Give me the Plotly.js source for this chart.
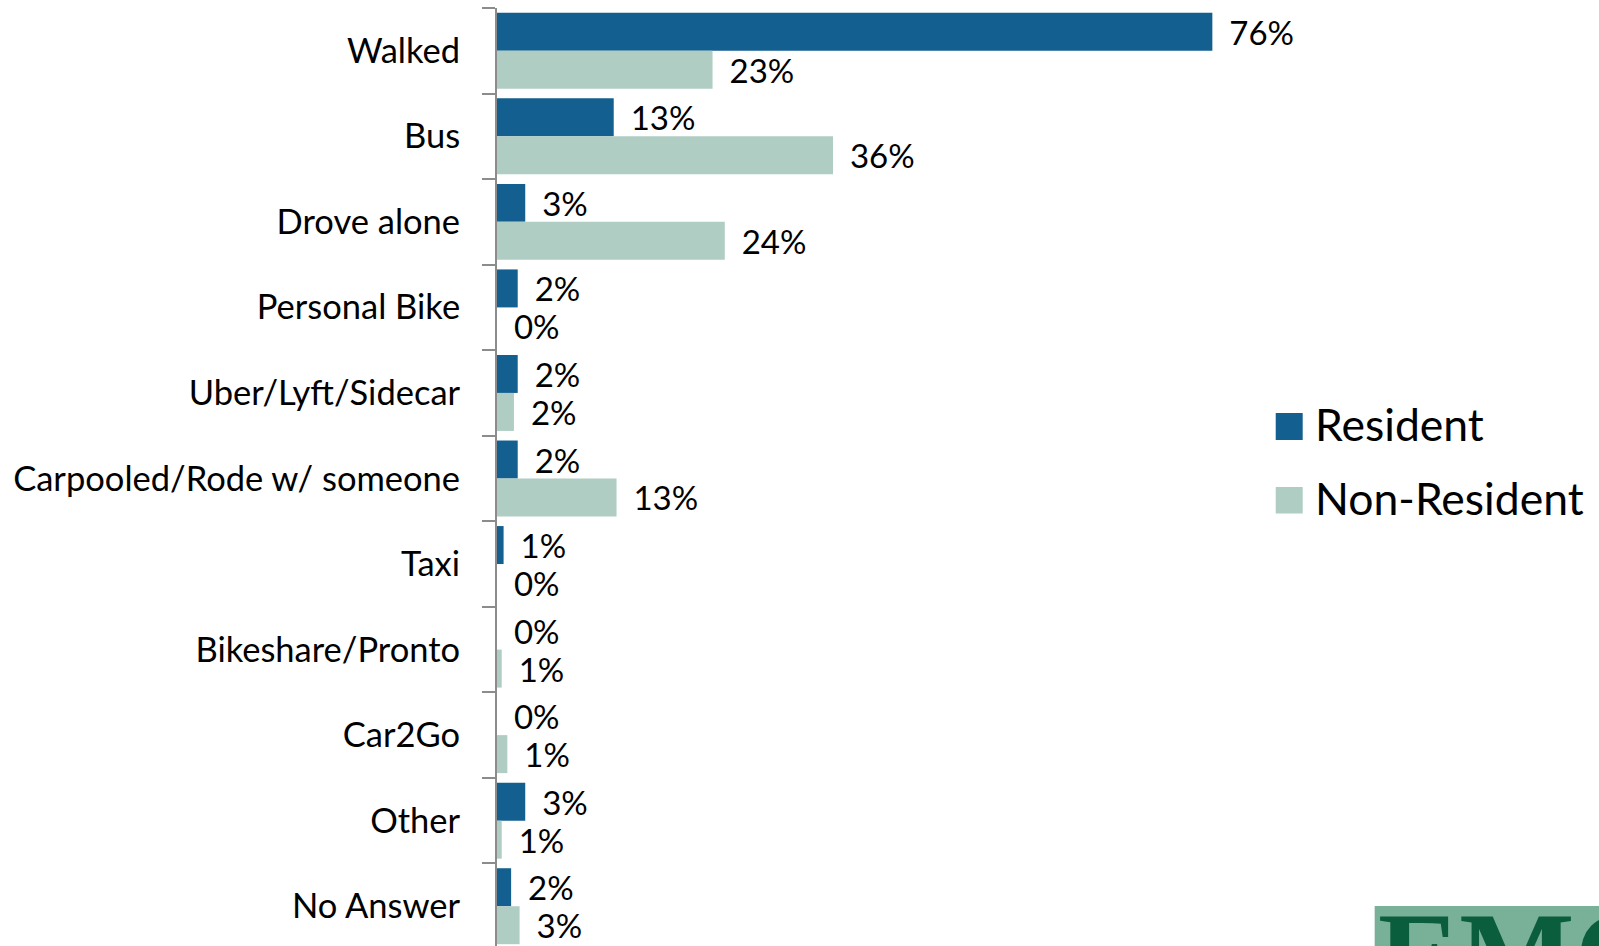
<!DOCTYPE html>
<html>
<head>
<meta charset="utf-8">
<script src="https://cdn.plot.ly/plotly-3.0.1.min.js"></script>
<style>
  html, body { margin: 0; padding: 0; background: #ffffff; }
  #chart { width: 1599px; height: 946px; }
</style>
</head>
<body>
<div id="chart"></div>
<script>
// ---- data ----
const categories = ["Walked", "Bus", "Drove alone", "Personal Bike", "Uber/Lyft/Sidecar",
  "Carpooled/Rode w/ someone", "Taxi", "Bikeshare/Pronto", "Car2Go", "Other", "No Answer"];
const seriesNames = ["Resident", "Non-Resident"];
const residentValues    = [76.0, 12.4, 3.0, 2.2, 2.2, 2.2, 0.7, 0.0, 0.0, 3.0, 1.5];
const nonResidentValues = [22.9, 35.7, 24.2, 0.0, 1.8, 12.7, 0.0, 0.5, 1.1, 0.5, 2.4];
const residentLabels    = ["76%", "13%", "3%", "2%", "2%", "2%", "1%", "0%", "0%", "3%", "2%"];
const nonResidentLabels = ["23%", "36%", "24%", "0%", "2%", "13%", "0%", "1%", "1%", "1%", "3%"];
const logoText = "EMC";

// ---- styling ----
const FONT = "Lato, 'Open Sans', sans-serif";
const colors = ["#135f8f", "#afcdc3"];
const W = 1599, H = 946;
const mL = 497, mT = 8, mB = 0;
const xMax = 80;
const pxPerUnit = 9.416;
const plotW = xMax * pxPerUnit;
const mR = W - mL - plotW;
const plotH = H - mT - mB;
const px = X => (X - mL) / plotW;
const py = Y => (H - mB - Y) / plotH;
const pad = s => "\u00A0\u2006" + s;

const commonBar = {
  type: "bar",
  orientation: "h",
  y: categories,
  textposition: "outside",
  cliponaxis: false,
  constraintext: "none",
  textfont: { family: FONT, size: 33, color: "#000000" },
  hoverinfo: "skip",
  showlegend: false
};

const traces = [
  Object.assign({}, commonBar, {
    name: seriesNames[0],
    x: residentValues,
    text: residentLabels.map(pad),
    marker: { color: colors[0] }
  }),
  Object.assign({}, commonBar, {
    name: seriesNames[1],
    x: nonResidentValues,
    text: nonResidentLabels.map(pad),
    marker: { color: colors[1] }
  })
];

const legendRows = [
  { top: 413, bottom: 440, mid: 423 },
  { top: 487, bottom: 513.5, mid: 498 }
];

const shapes = legendRows.map((r, i) => ({
  type: "rect", xref: "paper", yref: "paper", layer: "above",
  x0: px(1276), x1: px(1303), y0: py(r.bottom), y1: py(r.top),
  fillcolor: colors[i], line: { width: 0 }
}));
shapes.push({
  type: "rect", xref: "paper", yref: "paper", layer: "above",
  x0: px(1375), x1: px(1620), y0: py(960), y1: py(906),
  fillcolor: "#79b098", line: { width: 0 }
});

const annotations = legendRows.map((r, i) => ({
  xref: "paper", yref: "paper", x: px(1313), y: py(r.mid),
  xanchor: "left", yanchor: "middle", showarrow: false,
  text: seriesNames[i],
  font: { family: FONT, size: 44.5, color: "#000000" }
}));
annotations.push({
  xref: "paper", yref: "paper", x: px(1376), y: py(886),
  xanchor: "left", yanchor: "top", showarrow: false,
  text: logoText,
  font: { family: "'Liberation Serif', serif", size: 122, color: "#0b5e3d", weight: 700 }
});

const layout = {
  width: W, height: H,
  margin: { l: mL, r: mR, t: mT, b: mB, pad: 0 },
  paper_bgcolor: "#ffffff",
  plot_bgcolor: "#ffffff",
  barmode: "group",
  bargap: 0.112,
  bargroupgap: 0,
  showlegend: false,
  font: { family: FONT, color: "#000000" },
  xaxis: {
    range: [0, xMax],
    visible: false,
    showgrid: false,
    zeroline: false,
    fixedrange: true
  },
  yaxis: {
    type: "category",
    range: [10.465, -0.5],
    showline: true,
    linecolor: "#8c8c8c",
    linewidth: 2,
    ticks: "outside",
    tickson: "boundaries",
    ticklen: 13,
    tickwidth: 2,
    tickcolor: "#8c8c8c",
    ticklabelstandoff: 28,
    tickfont: { family: FONT, size: 34.5, color: "#000000" },
    showgrid: false,
    zeroline: false,
    fixedrange: true
  },
  shapes: shapes,
  annotations: annotations
};

Plotly.newPlot("chart", traces, layout, { displayModeBar: false, staticPlot: true });
</script>
</body>
</html>
